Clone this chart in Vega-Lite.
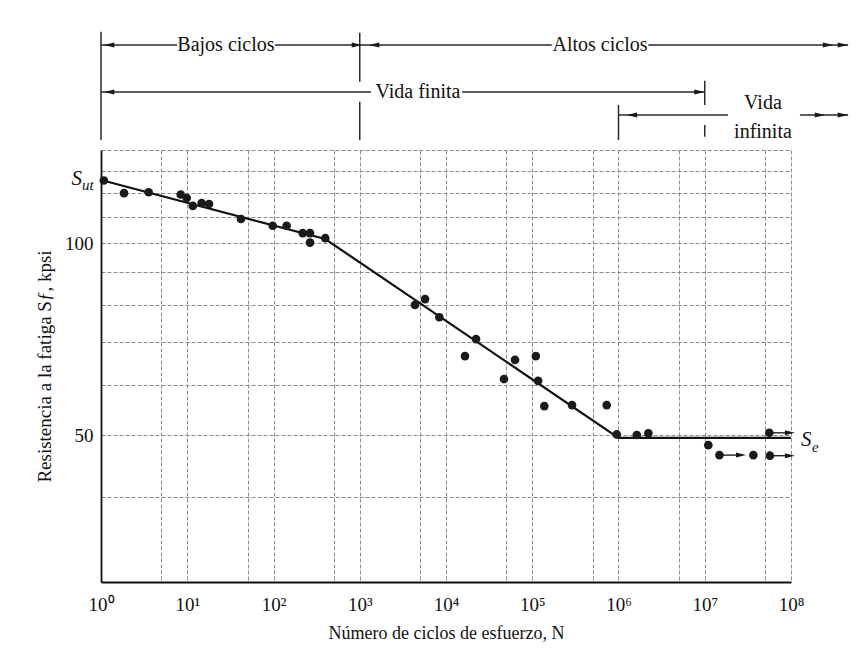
{
  "$schema": "https://vega.github.io/schema/vega-lite/v6.json",
  "background": "white",
  "padding": {"left": 35, "top": 25, "right": 5, "bottom": 5},
  "autosize": {"type": "pad"},
  "config": {"font": "Liberation Serif", "view": {"stroke": null}},
  "spacing": 0,
  "bounds": "flush",
  "datasets": {
    "segs": [
      {"N": 1, "N2": 7.6, "lv": 10.5, "lv2": 10.5},
      {"N": 104, "N2": 1000, "lv": 10.5, "lv2": 10.5},
      {"N": 1000, "N2": 168000, "lv": 10.5, "lv2": 10.5},
      {"N": 2220000, "N2": 460000000, "lv": 10.5, "lv2": 10.5},
      {"N": 1, "N2": 1350, "lv": 5.8, "lv2": 5.8},
      {"N": 15350, "N2": 10000000, "lv": 5.8, "lv2": 5.8},
      {"N": 1000000, "N2": 18600000, "lv": 3.5, "lv2": 3.5},
      {"N": 127000000, "N2": 460000000, "lv": 3.5, "lv2": 3.5},
      {"N": 1, "N2": 1, "lv": 11.83, "lv2": 1.0},
      {"N": 1000, "N2": 1000, "lv": 11.73, "lv2": 6.83},
      {"N": 1000, "N2": 1000, "lv": 4.83, "lv2": 1.0},
      {"N": 1000000, "N2": 1000000, "lv": 4.5, "lv2": 1.0},
      {"N": 10000000, "N2": 10000000, "lv": 6.93, "lv2": 4.5},
      {"N": 10000000, "N2": 10000000, "lv": 2.5, "lv2": 1.33}
    ],
    "heads": [
      {"N": 1.24, "lv": 10.5, "dir": "l"},
      {"N": 929, "lv": 10.5, "dir": "r"},
      {"N": 1462, "lv": 10.5, "dir": "l"},
      {"N": 269000000, "lv": 10.5, "dir": "r"},
      {"N": 400000000, "lv": 10.5, "dir": "r"},
      {"N": 1.24, "lv": 5.8, "dir": "l"},
      {"N": 8700000, "lv": 5.8, "dir": "r"},
      {"N": 1430000, "lv": 3.5, "dir": "l"},
      {"N": 217000000, "lv": 3.5, "dir": "r"},
      {"N": 400000000, "lv": 3.5, "dir": "r"}
    ],
    "labels": [
      {"t": "Bajos ciclos", "N": 28.1, "lv": 10.5},
      {"t": "Altos ciclos", "N": 610000, "lv": 10.5},
      {"t": "Vida finita", "N": 4730, "lv": 5.8},
      {"t": "Vida", "N": 47300000, "lv": 4.7},
      {"t": "infinita", "N": 47300000, "lv": 1.83}
    ],
    "fit": [
      {"N": 1, "S": 125.6},
      {"N": 398, "S": 101.5},
      {"N": 1000000, "S": 49.5},
      {"N": 100000000, "S": 49.5}
    ],
    "pts": [
      {"N": 1.08, "S": 125.4},
      {"N": 1.85, "S": 119.8},
      {"N": 3.57, "S": 120.2},
      {"N": 8.4, "S": 119.2},
      {"N": 9.86, "S": 117.7},
      {"N": 11.6, "S": 114.4},
      {"N": 14.7, "S": 115.6},
      {"N": 17.9, "S": 115.2},
      {"N": 42, "S": 109.1},
      {"N": 98, "S": 106.5},
      {"N": 142, "S": 106.5},
      {"N": 218, "S": 103.7},
      {"N": 265, "S": 103.7},
      {"N": 265, "S": 100.2},
      {"N": 398, "S": 101.8},
      {"N": 4370, "S": 80.0},
      {"N": 5720, "S": 81.7},
      {"N": 8370, "S": 76.5},
      {"N": 16600, "S": 66.5},
      {"N": 22300, "S": 70.7},
      {"N": 47000, "S": 61.2},
      {"N": 63100, "S": 65.6},
      {"N": 110000, "S": 66.5},
      {"N": 117000, "S": 60.8},
      {"N": 138000, "S": 55.5},
      {"N": 289000, "S": 55.7},
      {"N": 730000, "S": 55.7},
      {"N": 954000, "S": 50.1},
      {"N": 1630000, "S": 50.0},
      {"N": 2220000, "S": 50.3},
      {"N": 11000000, "S": 48.2},
      {"N": 14800000, "S": 46.5},
      {"N": 36600000, "S": 46.5},
      {"N": 56000000, "S": 50.4},
      {"N": 57000000, "S": 46.4}
    ],
    "runouts": [
      {"N": 14800000, "N2": 26300000, "S": 46.5},
      {"N": 56000000, "N2": 97000000, "S": 50.4},
      {"N": 57000000, "N2": 97000000, "S": 46.4}
    ],
    "marks": [
      {"N": 1, "S": 125.6, "sym": "S", "sub": "ut"}
    ],
    "marks2": [
      {"N": 100000000, "S": 49.5, "sym": "S", "sub": "e"}
    ]
  },
  "vconcat": [
    {
      "width": 690,
      "height": 125,
      "layer": [
        {
          "data": {"name": "segs"},
          "mark": {"type": "rule", "color": "#2a2a2a", "strokeWidth": 1.5},
          "encoding": {
            "x": {"field": "N", "type": "quantitative", "scale": {"type": "log", "domain": [1, 100000000], "nice": false}, "axis": null},
            "x2": {"field": "N2"},
            "y": {"field": "lv", "type": "quantitative", "scale": {"domain": [0, 12.5], "nice": false, "zero": false}, "axis": null},
            "y2": {"field": "lv2"}
          }
        },
        {
          "data": {"name": "heads"},
          "mark": {"type": "point", "filled": true, "color": "#1a1a1a", "opacity": 1, "size": 110},
          "encoding": {
            "x": {"field": "N", "type": "quantitative"},
            "y": {"field": "lv", "type": "quantitative"},
            "shape": {"field": "dir", "type": "nominal", "scale": {"domain": ["l", "r"], "range": ["M1,-0.5L-1,0L1,0.5Z", "M-1,-0.5L1,0L-1,0.5Z"]}, "legend": null}
          }
        },
        {
          "data": {"name": "labels"},
          "mark": {"type": "text", "fontSize": 20, "color": "#111", "baseline": "middle", "align": "center"},
          "encoding": {
            "x": {"field": "N", "type": "quantitative"},
            "y": {"field": "lv", "type": "quantitative"},
            "text": {"field": "t"}
          }
        }
      ]
    },
    {
      "width": 690,
      "height": 432,
      "layer": [
        {
          "data": {"name": "fit"},
          "mark": {"type": "line", "color": "#111", "strokeWidth": 2.2},
          "encoding": {
            "x": {
              "field": "N", "type": "quantitative",
              "scale": {"type": "log", "domain": [1, 100000000], "nice": false},
              "axis": {
                "values": [1, 5, 10, 50, 100, 500, 1000, 5000, 10000, 50000, 100000, 500000, 1000000, 5000000, 10000000, 50000000, 100000000],
                "labelExpr": "abs(log(datum.value)/LN10 - round(log(datum.value)/LN10)) < 0.01 ? '10' + ['⁰','¹','²','³','⁴','⁵','⁶','⁷','⁸'][round(log(datum.value)/LN10)] : ''",
                "labelFontSize": 19, "labelColor": "#111", "labelPadding": 13,
                "labelFlush": false, "labelOverlap": false, "labelBound": false,
                "ticks": false,
                "grid": true, "gridColor": "#8c8c8c", "gridDash": [4, 2], "gridWidth": 1,
                "domainColor": "#111", "domainWidth": 1.8,
                "title": "Número de ciclos de esfuerzo, N",
                "titleFontSize": 18, "titleFontWeight": "normal", "titleColor": "#111", "titlePadding": 10
              }
            },
            "y": {
              "field": "S", "type": "quantitative",
              "scale": {"type": "log", "domain": [29.4, 140], "nice": false},
              "axis": {
                "values": [40, 50, 60, 70, 80, 90, 100, 110, 120, 130, 140],
                "format": "d",
                "labelExpr": "datum.value == 50 || datum.value == 100 ? datum.label : ''",
                "labelFontSize": 19, "labelColor": "#111", "labelPadding": 8,
                "labelOverlap": false, "labelBound": false, "labelFlush": false,
                "ticks": false,
                "grid": true, "gridColor": "#8c8c8c", "gridDash": [4, 2], "gridWidth": 1,
                "domainColor": "#111", "domainWidth": 1.8,
                "title": "Resistencia a la fatiga Sƒ, kpsi",
                "titleFontSize": 19, "titleFontWeight": "normal", "titleColor": "#111", "titlePadding": 10
              }
            }
          }
        },
        {
          "data": {"name": "runouts"},
          "mark": {"type": "rule", "color": "#222", "strokeWidth": 1.4},
          "encoding": {
            "x": {"field": "N", "type": "quantitative"},
            "x2": {"field": "N2"},
            "y": {"field": "S", "type": "quantitative"}
          }
        },
        {
          "data": {"name": "runouts"},
          "mark": {"type": "point", "filled": true, "color": "#1a1a1a", "opacity": 1, "size": 100, "shape": "M-1,-0.5L1,0L-1,0.5Z"},
          "encoding": {
            "x": {"field": "N2", "type": "quantitative"},
            "y": {"field": "S", "type": "quantitative"}
          }
        },
        {
          "data": {"name": "pts"},
          "mark": {"type": "circle", "color": "#1a1a1a", "opacity": 1, "size": 75},
          "encoding": {
            "x": {"field": "N", "type": "quantitative"},
            "y": {"field": "S", "type": "quantitative"}
          }
        },
        {
          "data": {"name": "marks"},
          "mark": {"type": "text", "fontSize": 21, "fontStyle": "italic", "color": "#111", "align": "right", "baseline": "middle", "dx": -19, "dy": -1},
          "encoding": {
            "x": {"field": "N", "type": "quantitative"},
            "y": {"field": "S", "type": "quantitative"},
            "text": {"field": "sym"}
          }
        },
        {
          "data": {"name": "marks"},
          "mark": {"type": "text", "fontSize": 15, "fontStyle": "italic", "color": "#111", "align": "left", "baseline": "middle", "dx": -19, "dy": 5},
          "encoding": {
            "x": {"field": "N", "type": "quantitative"},
            "y": {"field": "S", "type": "quantitative"},
            "text": {"field": "sub"}
          }
        },
        {
          "data": {"name": "marks2"},
          "mark": {"type": "text", "fontSize": 21, "fontStyle": "italic", "color": "#111", "align": "left", "baseline": "middle", "dx": 10, "dy": 2},
          "encoding": {
            "x": {"field": "N", "type": "quantitative"},
            "y": {"field": "S", "type": "quantitative"},
            "text": {"field": "sym"}
          }
        },
        {
          "data": {"name": "marks2"},
          "mark": {"type": "text", "fontSize": 15, "fontStyle": "italic", "color": "#111", "align": "left", "baseline": "middle", "dx": 21, "dy": 9},
          "encoding": {
            "x": {"field": "N", "type": "quantitative"},
            "y": {"field": "S", "type": "quantitative"},
            "text": {"field": "sub"}
          }
        }
      ]
    }
  ]
}
